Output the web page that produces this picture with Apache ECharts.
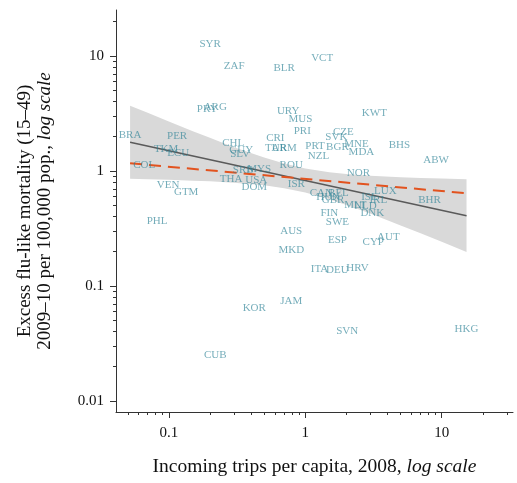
<!DOCTYPE html>
<html>
<head>
<meta charset="utf-8">
<script src="https://cdn.jsdelivr.net/npm/echarts@6/dist/echarts.min.js"></script>
<style>
  html, body { margin: 0; padding: 0; background: #fff; }
  #chart { width: 517px; height: 483px; }
</style>
</head>
<body>
<div id="chart"></div>
<script>
// Country codes with incoming trips per capita (2008) and excess flu-like mortality
const countries = [
  'SYR','ZAF','BLR','VCT','PRY','ARG','URY','MUS','PRI','KWT',
  'CZE','SVK','PRT','BGR','MNE','MDA','NZL','BHS','ABW','BRA',
  'PER','TKM','ECU','CHL','GUY','SLV','CRI','TUR','ARM','SRB',
  'MYS','THA','USA','DOM','ROU','ISR','COL','VEN','GTM','PHL',
  'AUS','MKD','NOR','CAN','BEL','HUN','GBR','LUX','IRL','ISL',
  'MLT','NLD','DNK','FIN','SWE','ESP','CYP','AUT','BHR','ITA',
  'DEU','HRV','KOR','JAM','SVN','HKG','CUB'
];
const tripsPerCapita = [
  0.201, 0.301, 0.70, 1.33, 0.191, 0.219, 0.75, 0.92, 0.95, 3.21,
  1.90, 1.69, 1.18, 1.72, 2.37, 2.58, 1.25, 4.90, 9.1, 0.052,
  0.115, 0.0955, 0.117, 0.296, 0.339, 0.333, 0.603, 0.61, 0.70, 0.351,
  0.46, 0.286, 0.437, 0.423, 0.789, 0.86, 0.066, 0.0988, 0.134, 0.082,
  0.789, 0.79, 2.45, 1.31, 1.75, 1.47, 1.60, 3.86, 3.43, 2.95,
  2.33, 2.76, 3.10, 1.50, 1.72, 1.72, 3.15, 4.06, 8.13, 1.27,
  1.72, 2.41, 0.423, 0.789, 2.03, 15.2, 0.219
];
const excessMortality = [
  12.7, 8.19, 7.87, 9.6, 3.46, 3.6, 3.34, 2.83, 2.23, 3.19,
  2.18, 1.98, 1.65, 1.62, 1.72, 1.46, 1.35, 1.68, 1.25, 2.03,
  2.01, 1.55, 1.44, 1.75, 1.52, 1.41, 1.94, 1.58, 1.58, 1.02,
  1.04, 0.85, 0.835, 0.726, 1.13, 0.77, 1.13, 0.755, 0.656, 0.367,
  0.30, 0.206, 0.96, 0.644, 0.644, 0.594, 0.56, 0.67, 0.56, 0.594,
  0.506, 0.496, 0.431, 0.431, 0.36, 0.251, 0.241, 0.267, 0.56, 0.14,
  0.138, 0.143, 0.064, 0.074, 0.0406, 0.0423, 0.0251
];

// Fitted log-log regression line and its confidence band
const fitX = [0.052, 15.2];
const fitY = [1.78, 0.408];
// Robust fit (dashed)
const robustY = [1.167, 0.64];
const bandX    = [0.052, 0.07, 0.1, 0.15, 0.2, 0.3, 0.5, 0.7, 1, 1.5, 2, 3, 5, 7, 10, 15.2];
const bandHigh = [3.69, 3.20, 2.69, 2.22, 1.94, 1.61, 1.31, 1.16, 1.05, 0.976, 0.942, 0.910, 0.883, 0.870, 0.859, 0.848];
const bandLow  = [0.856, 0.849, 0.838, 0.824, 0.812, 0.791, 0.750, 0.709, 0.650, 0.568, 0.507, 0.426, 0.336, 0.287, 0.242, 0.197];

// Axis ticks
const xMajorTicks = [0.1, 1, 10];
const xMinorTicks = [0.05, 0.06, 0.07, 0.08, 0.09, 0.2, 0.3, 0.4, 0.5, 0.6, 0.7, 0.8, 0.9,
                     2, 3, 4, 5, 6, 7, 8, 9, 20, 30];
const yMajorTicks = [0.01, 0.1, 1, 10];
const yMinorTicks = [0.02, 0.03, 0.04, 0.05, 0.06, 0.07, 0.08, 0.09,
                     0.2, 0.3, 0.4, 0.5, 0.6, 0.7, 0.8, 0.9,
                     2, 3, 4, 5, 6, 7, 8, 9, 20];

const X_MIN = 0.041, X_MAX = 33.3;
const Y_MIN = 0.00802, Y_MAX = 25.1;

const SERIF = "'Liberation Serif', 'DejaVu Serif', serif";
const AXIS_COLOR = '#333';

function fmtTick(v) {
  return String(v);
}

const chart = echarts.init(document.getElementById('chart'), null, { renderer: 'canvas' });

const pointData = countries.map((c, i) => ({ name: c, value: [tripsPerCapita[i], excessMortality[i]] }));

const option = {
  backgroundColor: '#fff',
  animation: false,
  grid: { left: 116, right: 4, top: 10, bottom: 71, containLabel: false },
  xAxis: [
    {
      type: 'log', min: X_MIN, max: X_MAX, position: 'bottom',
      axisLine: { show: true, lineStyle: { color: AXIS_COLOR, width: 1 } },
      axisTick: { show: true, length: 6, lineStyle: { color: AXIS_COLOR }, customValues: xMajorTicks },
      axisLabel: { show: true, customValues: xMajorTicks, formatter: fmtTick, margin: 14,
                   fontFamily: SERIF, fontSize: 15, color: '#111' },
      splitLine: { show: false },
      minorTick: { show: false },
      name: '{a|Incoming trips per capita, 2008, }{b|log scale}',
      nameLocation: 'middle', nameGap: 45,
      nameTextStyle: {
        fontFamily: SERIF, fontSize: 19.5, color: '#111',
        rich: {
          a: { fontFamily: SERIF, fontSize: 19.5, color: '#111' },
          b: { fontFamily: SERIF, fontSize: 19.5, color: '#111', fontStyle: 'italic' }
        }
      }
    },
    {
      type: 'log', min: X_MIN, max: X_MAX, position: 'bottom', offset: 0,
      axisLine: { show: false },
      axisTick: { show: true, length: 3, lineStyle: { color: AXIS_COLOR }, customValues: xMinorTicks },
      axisLabel: { show: false },
      splitLine: { show: false }
    }
  ],
  yAxis: [
    {
      type: 'log', min: Y_MIN, max: Y_MAX, position: 'left',
      axisLine: { show: true, lineStyle: { color: AXIS_COLOR, width: 1 } },
      axisTick: { show: true, length: 6, lineStyle: { color: AXIS_COLOR }, customValues: yMajorTicks },
      axisLabel: { show: true, customValues: yMajorTicks, formatter: fmtTick, margin: 12,
                   fontFamily: SERIF, fontSize: 15, color: '#111' },
      splitLine: { show: false },
      name: '{a|Excess flu-like mortality (15–49)}\n{a|2009–10 per 100,000 pop., }{b|log scale}',
      nameLocation: 'middle', nameGap: 61, nameRotate: 90,
      nameTextStyle: {
        fontFamily: SERIF, fontSize: 19, color: '#111', lineHeight: 20,
        rich: {
          a: { fontFamily: SERIF, fontSize: 19, color: '#111', lineHeight: 20 },
          b: { fontFamily: SERIF, fontSize: 19, color: '#111', lineHeight: 20, fontStyle: 'italic' }
        }
      }
    },
    {
      type: 'log', min: Y_MIN, max: Y_MAX, position: 'left', offset: 0,
      axisLine: { show: false },
      axisTick: { show: true, length: 3, lineStyle: { color: AXIS_COLOR }, customValues: yMinorTicks },
      axisLabel: { show: false },
      splitLine: { show: false }
    }
  ],
  series: [
    {
      // confidence band of the regression
      type: 'custom',
      xAxisIndex: 0, yAxisIndex: 0,
      data: [[1, 1]],
      silent: true,
      z: 1,
      renderItem: function (params, api) {
        const pts = [];
        for (let i = 0; i < bandX.length; i++) pts.push(api.coord([bandX[i], bandHigh[i]]));
        for (let i = bandX.length - 1; i >= 0; i--) pts.push(api.coord([bandX[i], bandLow[i]]));
        return { type: 'polygon', shape: { points: pts }, style: { fill: '#d9d9d9' } };
      }
    },
    {
      type: 'line',
      xAxisIndex: 0, yAxisIndex: 0,
      data: fitX.map((x, i) => [x, fitY[i]]),
      symbol: 'none', silent: true, z: 2,
      lineStyle: { color: '#5a5a5a', width: 1.5 }
    },
    {
      type: 'line',
      xAxisIndex: 0, yAxisIndex: 0,
      data: fitX.map((x, i) => [x, robustY[i]]),
      symbol: 'none', silent: true, z: 3,
      lineStyle: { color: '#e2531f', width: 2, type: [12, 7] }
    },
    {
      type: 'scatter',
      xAxisIndex: 0, yAxisIndex: 0,
      data: pointData,
      symbol: 'circle', symbolSize: 1,
      itemStyle: { color: 'rgba(0,0,0,0)' },
      z: 4,
      label: {
        show: true, position: 'inside',
        formatter: '{b}',
        fontFamily: SERIF, fontSize: 11,
        color: 'rgba(45,130,150,0.82)'
      }
    }
  ]
};

chart.setOption(option);
</script>
</body>
</html>
